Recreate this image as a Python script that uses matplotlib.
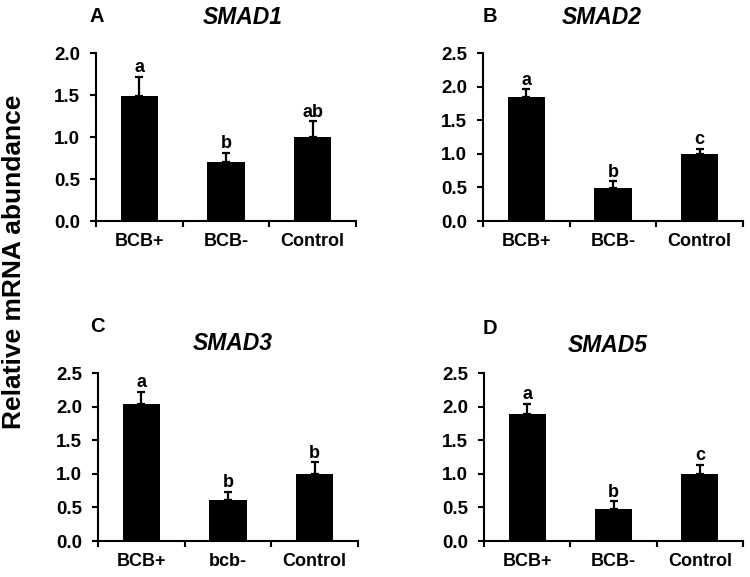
import matplotlib
matplotlib.use("Agg")
import matplotlib.pyplot as plt
import numpy as np

plt.rcParams['font.family'] = ['Liberation Sans', 'DejaVu Sans']
plt.rcParams['font.weight'] = 'bold'

panel_letters = ["A", "B", "C", "D"]
genes = ["SMAD1", "SMAD2", "SMAD3", "SMAD5"]
categories_A = ["BCB+", "BCB-", "Control"]
categories_B = ["BCB+", "BCB-", "Control"]
categories_C = ["BCB+", "bcb-", "Control"]
categories_D = ["BCB+", "BCB-", "Control"]

means_A = [1.49, 0.70, 1.00]
errs_A = [0.23, 0.115, 0.185]
sig_A = ["a", "b", "ab"]

means_B = [1.85, 0.49, 1.00]
errs_B = [0.11, 0.10, 0.075]
sig_B = ["a", "b", "c"]

means_C = [2.04, 0.61, 1.00]
errs_C = [0.175, 0.125, 0.17]
sig_C = ["a", "b", "b"]

means_D = [1.89, 0.48, 1.00]
errs_D = [0.155, 0.11, 0.13]
sig_D = ["a", "b", "c"]

ymax = [2.0, 2.5, 2.5, 2.5]
ylabel = "Relative mRNA abundance"

W, H = 750, 577
fig = plt.figure(figsize=(7.5, 5.77), dpi=100)

# axes boxes in pixels: left, right, top, bottom (top-origin)
boxes = [(96, 356, 53, 221), (483, 743, 53, 221), (98, 358, 373, 541), (484, 743, 373, 541)]
letter_pos = [(97, 17), (490, 17), (97, 327), (490, 328)]
title_pos = [(243, 17), (602, 17), (233, 343), (608, 346)]

panels = [
    (categories_A, means_A, errs_A, sig_A),
    (categories_B, means_B, errs_B, sig_B),
    (categories_C, means_C, errs_C, sig_C),
    (categories_D, means_D, errs_D, sig_D),
]

for i, (cats, means, errs, sig) in enumerate(panels):
    l, r, t, b = boxes[i]
    ax = fig.add_axes([l / W, (H - b) / H, (r - l) / W, (b - t) / H])
    x = np.arange(len(cats)) + 0.5
    ax.bar(x, means, width=0.43, color='black', zorder=2)
    ax.errorbar(x, means, yerr=[np.zeros(len(errs)), errs], fmt='none',
                ecolor='black', elinewidth=1.6, capsize=2.8, capthick=1.6, zorder=3)
    for xi, m, e, s in zip(x, means, errs, sig):
        ax.annotate(s, (xi, m + e), xytext=(0, 0.5), textcoords='offset points',
                    ha='center', va='bottom', fontsize=13, fontweight='bold')
    ax.set_xlim(0, len(cats))
    ax.set_ylim(0, ymax[i])
    ax.set_yticks(np.arange(0, ymax[i] + 0.01, 0.5))
    ax.set_yticklabels([f"{v:.1f}" for v in np.arange(0, ymax[i] + 0.01, 0.5)],
                       fontsize=13.5, fontweight='bold')
    ax.set_xticks(np.arange(len(cats) + 1))
    ax.set_xticklabels([])
    ax.set_xticks(x, minor=True)
    ax.set_xticklabels(cats, minor=True, fontsize=13, fontweight='bold')
    ax.tick_params(axis='x', which='major', direction='out', length=4.5, width=1.5)
    ax.tick_params(axis='x', which='minor', length=0, pad=9)
    ax.tick_params(axis='y', direction='out', length=4.5, width=1.5, pad=7)
    for sp in ['top', 'right']:
        ax.spines[sp].set_visible(False)
    for sp in ['left', 'bottom']:
        ax.spines[sp].set_linewidth(1.5)
    lx, ly = letter_pos[i]
    fig.text(lx / W, 1 - ly / H, panel_letters[i], ha='center', va='center',
             fontsize=14.5, fontweight='bold')
    tx, ty = title_pos[i]
    fig.text(tx / W, 1 - ty / H, genes[i], ha='center', va='center',
             fontsize=16.5, fontweight='bold', style='italic')

fig.text(14 / W, 1 - 262 / H, ylabel, rotation=90, ha='center', va='center',
         fontsize=19, fontweight='bold')

fig.savefig("out.png", dpi=100)
